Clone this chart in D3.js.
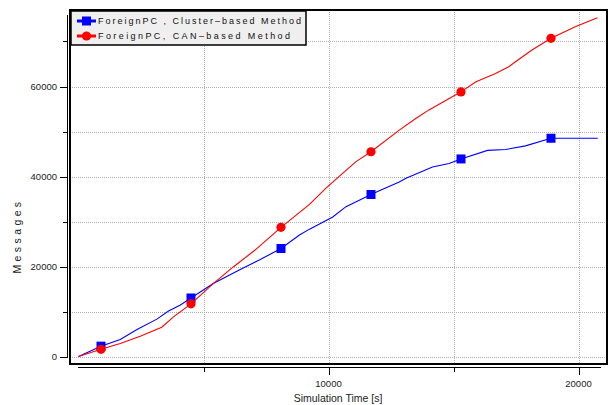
<!DOCTYPE html>
<html>
<head>
<meta charset="utf-8">
<script src="https://cdn.jsdelivr.net/npm/d3@7"></script>
<style>
  body { margin: 0; background: #fff; }
  svg { display: block; font-family: "Liberation Sans", Arial, sans-serif; }
</style>
</head>
<body>
<svg id="chart" width="611" height="405"></svg>
<script>
// series (time in s, messages)
var clusterTime = [0, 900, 1670, 2340, 3135, 3600, 4060, 4500, 5390, 6450, 7250, 8100, 8840, 9240, 10170, 10700, 11700, 12100, 12830, 13100, 14160, 14820, 15300, 16360, 17080, 17880, 18900, 19470, 20770];
var clusterMsgs = [0, 2300, 3800, 6000, 8300, 10100, 11400, 13000, 16200, 19300, 21500, 24000, 27000, 28300, 31000, 33300, 36000, 37000, 38800, 39600, 42100, 42900, 43900, 45800, 46000, 46800, 48500, 48500, 48500];
var canTime = [0, 900, 1670, 2470, 3330, 3800, 4500, 5390, 6190, 7050, 8100, 9240, 9900, 10440, 11100, 11700, 12830, 13490, 14020, 14950, 15300, 15880, 16680, 17210, 17480, 18140, 18900, 19870, 20760];
var canMsgs = [0, 1600, 2900, 4500, 6500, 8800, 11700, 16200, 19900, 23600, 28700, 33800, 37400, 40100, 43300, 45500, 50300, 52900, 54800, 57700, 58800, 61000, 62900, 64400, 65500, 68100, 70700, 73300, 75300];
var markerTimes = [900, 4500, 8100, 11700, 15300, 18900];

var xGrid = [5000, 10000, 15000, 20000];
var xLabels = [10000, 20000];
var yGrid = [0, 10000, 20000, 30000, 40000, 50000, 60000, 70000];
var yLabels = [0, 20000, 40000, 60000];

var seriesNames = ['ForeignPC , Cluster\u2013based Method', 'ForeignPC, CAN\u2013based Method'];
var seriesColors = ['#0000ff', '#ff0000'];

var svg = d3.select('#chart');
var frame = {left: 70, top: 10, right: 607, bottom: 364};

var x = d3.scaleLinear().domain([0, 20000]).range([78.5, 578.5]);
var y = d3.scaleLinear().domain([0, 60000]).range([356.5, 86.5]);

// grid
var grid = svg.append('g').attr('stroke', '#b0b0b0').attr('stroke-dasharray', '1,1').attr('stroke-width', 1);
grid.selectAll('line.v').data(xGrid).enter().append('line')
  .attr('x1', function(d){ return Math.round(x(d)) + 0.5; })
  .attr('x2', function(d){ return Math.round(x(d)) + 0.5; })
  .attr('y1', frame.top).attr('y2', frame.bottom);
grid.selectAll('line.h').data(yGrid).enter().append('line')
  .attr('y1', function(d){ return Math.round(y(d)) + 0.5; })
  .attr('y2', function(d){ return Math.round(y(d)) + 0.5; })
  .attr('x1', frame.left).attr('x2', frame.right);

// data lines
var series = [
  {t: clusterTime, v: clusterMsgs, color: seriesColors[0], shape: 'square'},
  {t: canTime, v: canMsgs, color: seriesColors[1], shape: 'circle'}
];

var line = d3.line()
  .x(function(d){ return x(d[0]); })
  .y(function(d){ return y(d[1]); });

series.forEach(function(s){
  var pts = s.t.map(function(t, i){ return [t, s.v[i]]; });
  svg.append('path').datum(pts)
    .attr('d', line).attr('fill', 'none')
    .attr('stroke', s.color).attr('stroke-width', 1.1);

  var marks = pts.filter(function(p){ return markerTimes.indexOf(p[0]) >= 0; });
  if (s.shape === 'square') {
    svg.selectAll(null).data(marks).enter().append('rect')
      .attr('x', function(p){ return x(p[0]) - 4.5; })
      .attr('y', function(p){ return y(p[1]) - 4.5; })
      .attr('width', 9).attr('height', 9)
      .attr('fill', s.color);
  } else {
    svg.selectAll(null).data(marks).enter().append('circle')
      .attr('cx', function(p){ return x(p[0]); })
      .attr('cy', function(p){ return y(p[1]); })
      .attr('r', 4.6)
      .attr('fill', s.color);
  }
});

// frame
svg.append('rect')
  .attr('x', frame.left).attr('y', frame.top)
  .attr('width', frame.right - frame.left).attr('height', frame.bottom - frame.top)
  .attr('fill', 'none').attr('stroke', '#000').attr('stroke-width', 2);

// y axis
var yAxis = svg.append('g');
yAxis.append('line').attr('x1', 67.5).attr('x2', 67.5).attr('y1', 15).attr('y2', y(0) + 0.5)
  .attr('stroke', '#000');
yAxis.selectAll('line.tick').data(yGrid).enter().append('line')
  .attr('x1', function(d){ return yLabels.indexOf(d) >= 0 ? 60 : 63; })
  .attr('x2', 68)
  .attr('y1', function(d){ return Math.round(y(d)) + 0.5; })
  .attr('y2', function(d){ return Math.round(y(d)) + 0.5; })
  .attr('stroke', '#000');
yAxis.selectAll('text').data(yLabels).enter().append('text')
  .attr('x', 57).attr('y', function(d){ return y(d) + 3.5; })
  .attr('text-anchor', 'end').attr('font-size', '9.5px').attr('fill', '#222')
  .text(function(d){ return d; });

svg.append('text')
  .attr('transform', 'translate(21,236) rotate(-90)')
  .attr('text-anchor', 'middle').attr('font-size', '10.5px').attr('fill', '#222')
  .attr('letter-spacing', '3.4px')
  .text('Messages');

// x axis
var xAxis = svg.append('g');
xAxis.append('line').attr('x1', 78).attr('x2', 601).attr('y1', 367.5).attr('y2', 367.5)
  .attr('stroke', '#000');
xAxis.selectAll('line.tick').data(xGrid).enter().append('line')
  .attr('x1', function(d){ return Math.round(x(d)) + 0.5; })
  .attr('x2', function(d){ return Math.round(x(d)) + 0.5; })
  .attr('y1', 367)
  .attr('y2', function(d){ return xLabels.indexOf(d) >= 0 ? 375 : 372; })
  .attr('stroke', '#000');
xAxis.selectAll('text').data(xLabels).enter().append('text')
  .attr('x', function(d){ return x(d); }).attr('y', 387)
  .attr('text-anchor', 'middle').attr('font-size', '9.5px').attr('fill', '#222')
  .text(function(d){ return d; });

svg.append('text')
  .attr('x', 338).attr('y', 402)
  .attr('text-anchor', 'middle').attr('font-size', '10.5px').attr('fill', '#222')
  .text('Simulation Time [s]');

// legend
var legend = svg.append('g');
legend.append('rect').attr('x', 71).attr('y', 11).attr('width', 235).attr('height', 34)
  .attr('fill', '#efefef').attr('stroke', '#000').attr('stroke-width', 1.5);
var legendWidths = [203, 192];
seriesNames.forEach(function(name, i){
  var ly = 21 + i * 15;
  legend.append('line').attr('x1', 77).attr('x2', 96).attr('y1', ly).attr('y2', ly)
    .attr('stroke', seriesColors[i]).attr('stroke-width', 3);
  if (i === 0) {
    legend.append('rect').attr('x', 82).attr('y', ly - 4.5).attr('width', 9).attr('height', 9)
      .attr('fill', seriesColors[i]);
  } else {
    legend.append('circle').attr('cx', 86.5).attr('cy', ly).attr('r', 4.6)
      .attr('fill', seriesColors[i]);
  }
  legend.append('text').attr('x', 98).attr('y', ly + 3.3)
    .attr('font-size', '9px').attr('fill', '#111')
    .attr('textLength', legendWidths[i]).attr('lengthAdjust', 'spacing')
    .text(name);
});
</script>
</body>
</html>
